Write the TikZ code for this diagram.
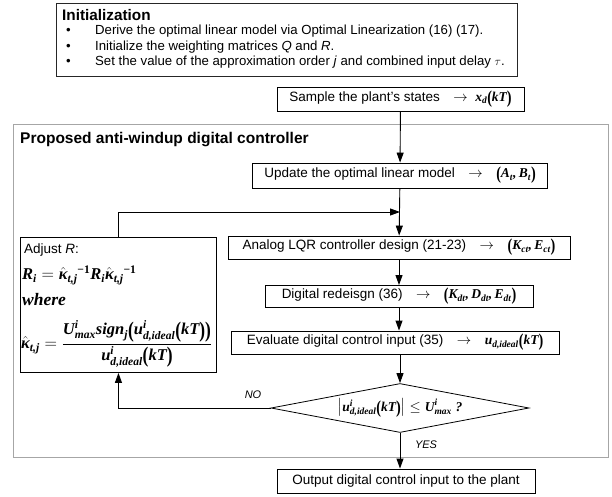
\documentclass[tikz,border=0pt]{standalone}
\usepackage{amsmath}
\usepackage{graphicx}
\usepackage{fontspec}
\setmainfont{Liberation Sans}
\newfontfamily\mathser{Liberation Serif}
\usetikzlibrary{arrows.meta,shapes.geometric}

% bold italic serif symbols, as set by an equation editor
\newcommand\mv[1]{\text{\mathser\bfseries\itshape #1}}
\newcommand\LP{\mathopen{\text{\raisebox{-0.14em}{\scalebox{1.05}[1.35]{\mathser\bfseries(}}}}}
\newcommand\RP{\mathclose{\text{\raisebox{-0.14em}{\scalebox{1.05}[1.35]{\mathser\bfseries)}}}}}
\newcommand\kap{\hat{\mv{κ}}}
\newcommand\inv{\text{\mathser\bfseries −1}}
\newcommand\bul{\makebox[29pt][l]{\textbullet}}

\tikzset{
  boxtext/.style={font=\fontsize{13.5}{16}\selectfont},
  stepbox/.style={draw, line width=0.9pt, minimum height=24pt, inner sep=0pt, boxtext},
  listline/.style={anchor=west, inner sep=0pt, font=\fontsize{13.2}{15}\selectfont},
  eqline/.style={anchor=west, inner sep=0pt, font=\fontsize{16.5}{19}\selectfont},
  arr/.style={line width=0.9pt, -{Triangle[length=10pt,width=7pt]}},
  frameline/.style={draw=black!35, line width=1pt},
}

\begin{document}
\begin{tikzpicture}[x=1pt, y=-1pt]
\useasboundingbox (0,0) rectangle (612,497);

% setup steps before the loop
\node[draw=black!85, line width=1pt, anchor=north west, minimum width=461pt, minimum height=73pt, inner sep=0pt] (init) at (56,3) {};
\node[anchor=west, inner sep=0pt, font=\fontsize{15.3}{17}\selectfont\bfseries] (inittitle) at (62,15) {Initialization};
\node[listline] (initone) at (66,31.5) {\bul Derive the optimal linear model via Optimal Linearization (16) (17).};
\node[listline] (inittwo) at (66,47) {\bul Initialize the weighting matrices \textit{Q} and \textit{R}.};
\node[listline] (initthree) at (66,62.5) {\bul Set the value of the approximation order \textit{j} and combined input delay $\tau$.};

% controller frame
\node[frameline, anchor=north west, minimum width=595pt, minimum height=333pt, inner sep=0pt] (frame) at (13,124) {};
\node[anchor=west, inner sep=0pt, font=\fontsize{15.5}{17}\selectfont\bfseries] (ftitle) at (20,140)
  {Proposed anti-windup digital controller};

% main column
\node[stepbox, minimum width=247pt, minimum height=24pt] (sample) at (400.5,99)
  {Sample the plant's states\quad$\rightarrow$\;\;$\mv{x}_{\mv{d}}\LP\mv{kT}\RP$};
\node[stepbox, minimum width=295pt, minimum height=25pt] (update) at (400,175.5)
  {Update the optimal linear model\quad$\rightarrow$\quad$\LP\mv{A}_{\mv{t}}\mv{,}\,\mv{B}_{\mv{t}}\RP$};
\node[stepbox, minimum width=342pt, minimum height=23pt] (analog) at (399,247.5)
  {Analog LQR controller design (21-23)\quad$\rightarrow$\quad$\LP\mv{K}_{\mv{ct}}\mv{,}\,\mv{E}_{\mv{ct}}\RP$};
\node[stepbox, minimum width=268pt, minimum height=22pt] (digital) at (399,296.5)
  {Digital redeisgn (36)\quad$\rightarrow$\quad$\LP\mv{K}_{\mv{dt}}\mv{,}\,\mv{D}_{\mv{dt}}\mv{,}\,\mv{E}_{\mv{dt}}\RP$};
\node[stepbox, minimum width=328pt, minimum height=23pt] (evaluate) at (395,342.5)
  {Evaluate digital control input (35)\quad$\rightarrow$\quad$\mv{u}_{\mv{d,ideal}}\LP\mv{kT}\RP$};
\node[draw, line width=0.8pt, diamond, aspect=5.3, minimum width=258pt, minimum height=49pt,
      inner sep=0pt, boxtext] (decide) at (400,408)
  {$\left|\mv{u}_{\mv{d,ideal}}^{\mv{i}}\LP\mv{kT}\RP\right|\le\mv{U}_{\mv{max}}^{\mv{i}}\ \mv{?}$};
\node[stepbox, minimum width=258pt] (output) at (406,481)
  {Output digital control input to the plant};

% weighting update block
\node[draw, line width=0.9pt, anchor=north west, minimum width=196pt, minimum height=135pt, inner sep=0pt] (adjust) at (20,237) {};
\node[anchor=west, inner sep=0pt, boxtext] (adjlabel) at (24,250) {Adjust \textit{R}:};
\node[eqline] (adjeq) at (22,275)
  {$\mv{R}_{\mv{i}}=\kap_{\mv{t,j}}{}^{\inv}\mv{R}_{\mv{i}}\kap_{\mv{t,j}}{}^{\inv}$};
\node[eqline, font=\fontsize{17.5}{19}\selectfont] (adjwhere) at (22,300) {\mathser\bfseries\itshape where};
\node[eqline] (adjfrac) at (21,344)
  {$\displaystyle\kap_{\mv{t,j}}=\frac{\mv{U}_{\mv{max}}^{\mv{i}}\mv{sign}_{\mv{j}}\LP\mv{u}_{\mv{d,ideal}}^{\mv{i}}\LP\mv{kT}\RP\RP}{\mv{u}_{\mv{d,ideal}}^{\mv{i}}\LP\mv{kT}\RP}$};

% connectors
\coordinate (join) at (400,212);
\draw[arr] (sample) -- (update);
\draw[arr] (update) -- (analog);
\draw[arr] (adjust.north) |- (join);
\draw[arr] (analog) -- (digital);
\draw[arr] (digital.south -| analog.south) -- (evaluate.north -| analog.south);
\draw[arr] (evaluate.south -| decide.north) -- (decide.north);
\draw[arr] (decide.west) -| (adjust.south);
\draw[arr] (decide.south) -- (output.north -| decide.south);

\node[inner sep=0pt, font=\fontsize{11}{13}\selectfont\itshape] (nolabel) at (253,395) {NO};
\node[inner sep=0pt, font=\fontsize{11}{13}\selectfont\itshape] (yeslabel) at (426,445) {YES};
\end{tikzpicture}
\end{document}
